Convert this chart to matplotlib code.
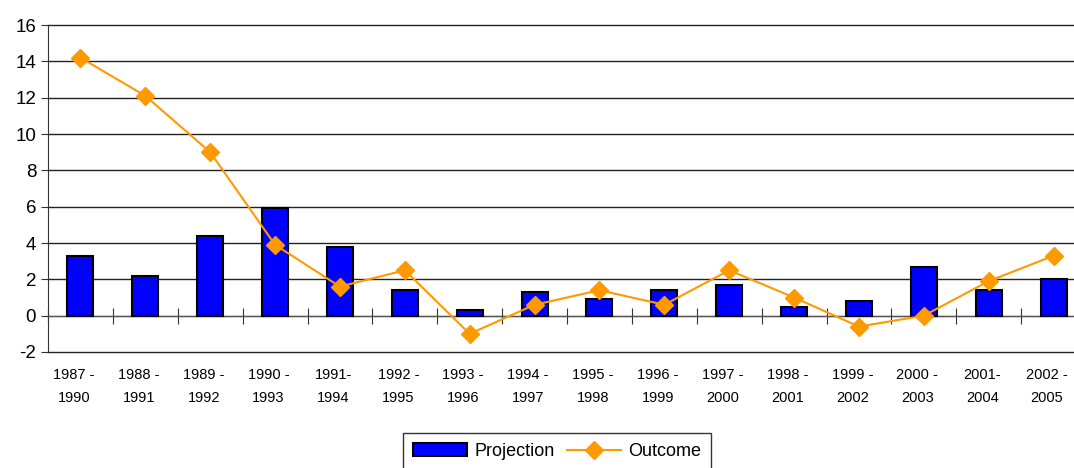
import matplotlib.pyplot as plt
import numpy as np

plt.rcParams['font.family'] = ['Liberation Sans', 'DejaVu Sans']
plt.rcParams['axes.unicode_minus'] = False  # plain hyphen on negative ticks

periods = ['1987 -\n1990', '1988 -\n1991', '1989 -\n1992', '1990 -\n1993', '1991-\n1994',
           '1992 -\n1995', '1993 -\n1996', '1994 -\n1997', '1995 -\n1998', '1996 -\n1999',
           '1997 -\n2000', '1998 -\n2001', '1999 -\n2002', '2000 -\n2003', '2001-\n2004',
           '2002 -\n2005']
projection = [3.3, 2.2, 4.4, 5.9, 3.8, 1.4, 0.3, 1.3, 0.9, 1.4, 1.7, 0.5, 0.8, 2.7, 1.4, 2.0]
outcome = [14.2, 12.1, 9.0, 3.9, 1.6, 2.5, -1.0, 0.6, 1.4, 0.6, 2.5, 1.0, -0.6, 0.0, 1.9, 3.3]

x = np.arange(len(periods))

fig = plt.figure(figsize=(10.74, 4.68), dpi=100)
# plot area runs a little past the right edge of the figure
ax = fig.add_axes([48 / 1074, 1 - 352 / 468, 1038 / 1074, (352 - 25) / 468])

bars = ax.bar(x, projection, width=0.4, color='#0000FF', edgecolor='black', linewidth=1.5,
              label='Projection', zorder=3)
line, = ax.plot(x, outcome, color='#FF9900', marker='D', markersize=9, linewidth=1.5,
                label='Outcome', zorder=4)

ax.set_xlim(-0.5, len(periods) - 0.5)
ax.set_ylim(-2, 16)
ax.set_yticks(np.arange(-2, 17, 2))
ax.yaxis.grid(True, color='#222222', linewidth=1)
for gl in ax.get_ygridlines():
    gl.set_clip_on(False)
ax.set_axisbelow(True)

for side in ['top', 'right']:
    ax.spines[side].set_visible(False)
ax.spines['left'].set_color('#333333')
ax.spines['bottom'].set_position(('data', 0))
ax.spines['bottom'].set_color('#555555')

ax.set_xticks(np.arange(len(periods) + 1) - 0.5)
ax.set_xticklabels([])
ax.tick_params(axis='x', direction='inout', length=12, color='#333333')
ax.tick_params(axis='y', direction='out', length=5, labelsize=13.5, color='#333333')

for xi, lab in zip(x, periods):
    ax.text(xi - 0.1, -0.05, lab, transform=ax.get_xaxis_transform(), ha='center', va='top',
            fontsize=10.5, linespacing=1.75)

fig.legend(handles=[bars, line], loc='upper center', bbox_to_anchor=(557 / 1074, 1 - 433 / 468),
           ncol=2, frameon=True, fancybox=False, edgecolor='black', fontsize=13,
           handlelength=3.0, borderaxespad=0, borderpad=0.55, columnspacing=0.7,
           handletextpad=0.4)

fig.savefig('out.png', dpi=100)
